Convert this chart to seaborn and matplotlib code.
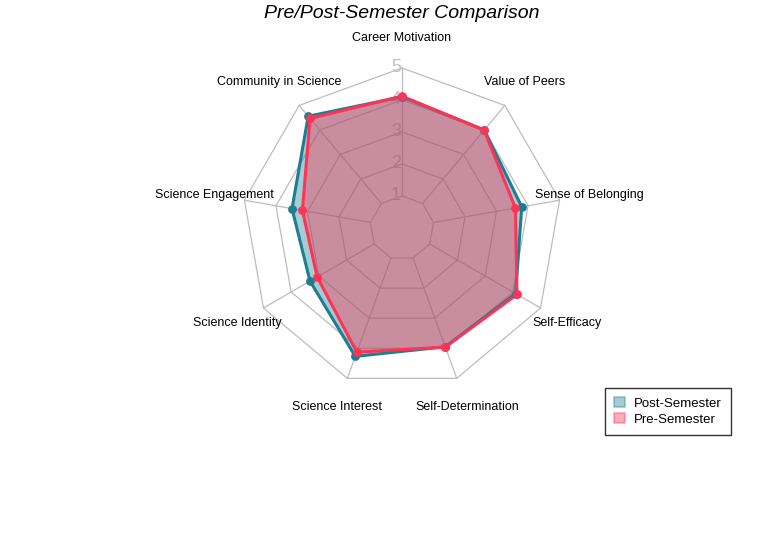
import numpy as np
import matplotlib
matplotlib.use("Agg")
import matplotlib.pyplot as plt
import seaborn as sns
from matplotlib.patches import Patch

# axes in clockwise order starting at the top
categories = ["Career Motivation", "Value of Peers", "Sense of Belonging", "Self-Efficacy",
              "Self-Determination", "Science Interest", "Science Identity",
              "Science Engagement", "Community in Science"]
post_semester = [4.10, 4.00, 3.80, 4.10, 3.95, 4.27, 3.32, 3.49, 4.56]
pre_semester = [4.12, 3.99, 3.60, 4.15, 3.96, 4.13, 3.06, 3.16, 4.47]
ring_levels = [1, 2, 3, 4, 5]

post_color = "#1e7d91"
pre_color = "#ff3355"
grid_color = "#bdbdbd"

sns.set_theme(style="white")
plt.rcParams["font.family"] = ["Liberation Sans", "DejaVu Sans"]

fig = plt.figure(figsize=(7.67, 5.33), dpi=100)
ax = fig.add_axes([0, 0, 1, 1])
ax.set_xlim(0, 767)
ax.set_ylim(533, 0)
ax.set_aspect("equal")
ax.axis("off")

cx, cy = 402, 228
R = 160.0
vmax = max(ring_levels)
n = len(categories)
ang = np.pi / 2 - np.arange(n) * 2 * np.pi / n
ux, uy = np.cos(ang), -np.sin(ang)


def to_xy(vals):
    r = np.asarray(vals) / vmax * R
    return cx + r * ux, cy + r * uy


# polygon rings
for lev in ring_levels:
    x, y = to_xy([lev] * n)
    ax.plot(np.append(x, x[0]), np.append(y, y[0]), color=grid_color, lw=0.9, zorder=1)
# spokes from the inner ring to the outer ring
x0, y0 = to_xy([ring_levels[0]] * n)
x1, y1 = to_xy([vmax] * n)
for i in range(n):
    ax.plot([x0[i], x1[i]], [y0[i], y1[i]], color=grid_color, lw=0.9, zorder=1)

# ring value labels along the top axis
for lev in ring_levels:
    x, y = to_xy([lev] * n)
    ax.text(x[0] - 1, y[0], str(lev), ha="right", va="center", fontsize=13,
            color="#c0c0c0", zorder=1)

# data polygons
for vals, col in [(post_semester, post_color), (pre_semester, pre_color)]:
    x, y = to_xy(vals)
    ax.fill(x, y, color=col, alpha=0.4, lw=0, zorder=2)
    ax.plot(np.append(x, x[0]), np.append(y, y[0]), color=col, lw=2.2, zorder=3)
    sns.scatterplot(x=x, y=y, color=col, s=40, edgecolor=col, linewidth=0,
                    ax=ax, zorder=4, legend=False)

# category labels
lx, ly = cx + R * 1.19 * ux, cy + R * 1.19 * uy
for i, lab in enumerate(categories):
    ax.text(lx[i], ly[i], lab, ha="center", va="center", fontsize=9, color="black")

ax.text(cx, 13, "Pre/Post-Semester Comparison", ha="center", va="center",
        fontsize=14, style="italic", color="black")

handles = [Patch(facecolor=post_color, alpha=0.4, edgecolor=post_color, lw=1.2, label="Post-Semester"),
           Patch(facecolor=pre_color, alpha=0.4, edgecolor=pre_color, lw=1.2, label="Pre-Semester")]
leg = fig.legend(handles=handles, loc="upper left", bbox_to_anchor=(605 / 767, 1 - 388 / 533),
                 frameon=True, fancybox=False, fontsize=9.5, handlelength=0.8, handleheight=0.8,
                 handletextpad=0.7, borderpad=0.7, labelspacing=0.25, borderaxespad=0,
                 labelcolor="black")
leg.get_frame().set_edgecolor("black")
leg.get_frame().set_linewidth(1.0)

fig.savefig("out.png", dpi=100)
